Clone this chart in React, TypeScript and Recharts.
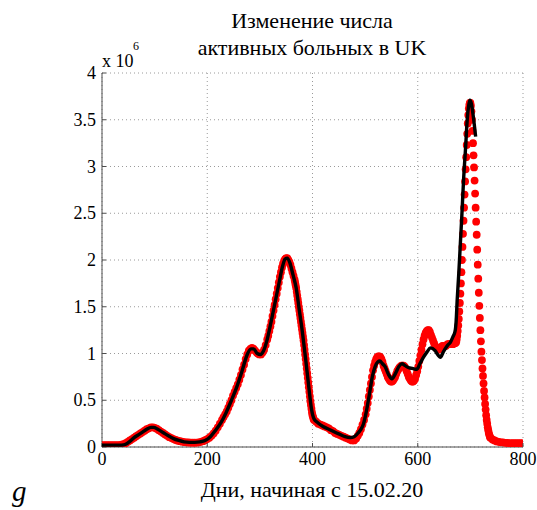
import React from 'react';
import {
  ComposedChart,
  LineChart,
  Line,
  XAxis,
  YAxis,
  CartesianGrid,
} from 'recharts';

// model (red dots): [day, active cases in millions]
const modelPoints: [number, number][] = [
  [0, 0.02], [4, 0.02], [8, 0.02], [12, 0.02], [16, 0.02], [20, 0.02], [24, 0.02], [28, 0.02], [32, 0.02],
  [37, 0.025], [41, 0.03], [45, 0.04], [49, 0.055], [53, 0.07], [57, 0.085], [61, 0.1], [65, 0.115],
  [69, 0.13], [73, 0.145], [77, 0.16], [81, 0.175], [85, 0.19], [89, 0.2], [93, 0.21], [97, 0.21],
  [100, 0.205], [104, 0.195], [108, 0.18], [112, 0.165], [116, 0.15], [120, 0.135], [124, 0.12],
  [128, 0.105], [132, 0.095], [136, 0.085], [140, 0.075], [144, 0.068], [148, 0.062], [152, 0.057],
  [156, 0.053], [160, 0.05], [164, 0.048], [168, 0.047], [172, 0.046], [176, 0.046], [180, 0.047],
  [184, 0.05], [188, 0.055], [192, 0.062], [196, 0.072], [200, 0.085], [204, 0.1], [208, 0.12],
  [212, 0.145], [216, 0.175], [220, 0.21], [224, 0.25], [228, 0.29],
  [231, 0.32], [234, 0.35], [237, 0.38], [240, 0.42], [243, 0.46], [246, 0.5], [249, 0.55], [252, 0.59],
  [255, 0.63], [258, 0.67], [261, 0.72], [264, 0.77], [267, 0.83], [270, 0.88], [273, 0.94], [276, 0.99],
  [279, 1.03], [282, 1.05], [285, 1.06], [288, 1.05], [291, 1.03], [294, 1.01], [296, 1.0], [299, 0.99],
  [302, 0.99], [305, 1.01], [308, 1.04], [311, 1.09], [314, 1.15],
  [316, 1.19], [318, 1.24], [320, 1.29], [322, 1.34], [324, 1.4], [326, 1.46], [328, 1.52], [330, 1.58],
  [332, 1.64], [334, 1.7], [336, 1.76], [338, 1.82], [340, 1.87], [342, 1.92], [344, 1.96], [346, 1.99],
  [348, 2.01], [350, 2.02], [352, 2.02], [354, 2.0], [356, 1.98], [358, 1.95], [360, 1.91], [362, 1.87],
  [364, 1.83], [366, 1.79],
  [367, 1.76], [368, 1.73], [369, 1.7], [370, 1.66], [371, 1.62], [372, 1.58], [373, 1.54], [374, 1.5],
  [375, 1.46], [376, 1.42], [377, 1.38], [378, 1.34], [379, 1.3], [380, 1.26], [381, 1.22], [382, 1.18],
  [383, 1.14], [384, 1.09], [385, 1.04], [386, 0.99], [387, 0.94], [388, 0.89], [389, 0.84], [390, 0.79],
  [391, 0.74], [392, 0.69], [393, 0.64], [394, 0.59], [395, 0.54], [396, 0.49], [397, 0.45], [398, 0.41],
  [399, 0.37], [400, 0.34], [401, 0.32], [402, 0.3], [403, 0.29],
  [407, 0.27], [411, 0.25], [415, 0.24], [419, 0.23], [423, 0.22], [427, 0.21], [431, 0.2], [435, 0.18],
  [439, 0.17], [443, 0.15], [447, 0.14], [451, 0.13], [455, 0.12], [459, 0.11], [463, 0.1], [467, 0.09],
  [471, 0.08], [475, 0.07], [479, 0.07], [483, 0.09],
  [486, 0.12], [489, 0.15], [492, 0.19], [495, 0.24], [498, 0.29], [501, 0.35], [503, 0.41],
  [505, 0.47], [507, 0.54], [509, 0.61], [511, 0.68], [513, 0.75], [515, 0.82], [517, 0.87], [519, 0.91],
  [521, 0.94], [523, 0.96], [525, 0.97], [527, 0.97], [529, 0.96], [531, 0.94], [533, 0.91], [535, 0.87],
  [537, 0.84], [539, 0.81], [541, 0.78], [543, 0.75], [545, 0.73], [547, 0.71], [549, 0.7], [551, 0.7],
  [553, 0.71], [555, 0.73], [557, 0.75], [559, 0.78], [561, 0.81], [563, 0.83], [565, 0.85], [567, 0.86],
  [569, 0.87], [571, 0.87], [573, 0.87], [575, 0.86], [577, 0.84], [579, 0.81], [581, 0.78], [583, 0.75],
  [585, 0.73], [587, 0.71], [589, 0.7], [591, 0.7], [593, 0.71], [595, 0.73], [597, 0.77], [599, 0.81],
  [601, 0.86], [603, 0.92], [605, 0.98], [607, 1.04], [609, 1.1], [611, 1.15], [613, 1.19], [615, 1.22],
  [617, 1.24], [619, 1.25], [621, 1.25], [623, 1.23], [625, 1.2], [627, 1.17], [629, 1.14], [631, 1.11],
  [633, 1.08], [635, 1.06], [637, 1.05], [639, 1.04], [641, 1.05], [643, 1.06], [645, 1.07], [647, 1.08],
  [649, 1.08], [651, 1.08], [653, 1.08], [655, 1.09], [657, 1.1], [659, 1.1], [661, 1.1], [663, 1.1],
  [665, 1.1], [667, 1.1], [669, 1.11], [671, 1.11], [673, 1.12],
  [674, 1.15], [675, 1.19], [676, 1.24], [677, 1.3], [678, 1.37], [679, 1.45], [680, 1.54], [681, 1.64],
  [682, 1.75], [683, 1.87], [684, 2.0], [685, 2.14], [686, 2.28], [687, 2.42], [688, 2.56], [689, 2.7],
  [690, 2.84], [691, 2.97], [692, 3.1], [693, 3.23], [694, 3.35], [695, 3.46], [696, 3.55], [697, 3.62],
  [698, 3.66], [699, 3.68], [700, 3.68], [701, 3.65], [702, 3.59], [703, 3.5], [704, 3.38], [705, 3.25],
  [706, 3.12], [707, 2.99], [708, 2.85], [709, 2.71], [710, 2.56], [711, 2.41], [712, 2.27], [713, 2.11],
  [714, 1.95], [715, 1.8], [716, 1.65], [717, 1.51], [718, 1.38], [719, 1.25], [720, 1.13], [721, 1.02],
  [722, 0.93], [723, 0.84], [724, 0.76], [725, 0.68], [726, 0.6], [727, 0.53], [728, 0.46], [729, 0.4],
  [730, 0.34], [731, 0.29], [732, 0.25], [733, 0.21], [734, 0.18], [735, 0.15], [736, 0.13], [737, 0.11],
  [738, 0.1],
  [742, 0.08], [746, 0.07], [750, 0.06], [754, 0.055], [758, 0.05], [762, 0.05], [766, 0.045], [770, 0.045],
  [774, 0.04], [778, 0.04], [782, 0.04], [786, 0.04], [790, 0.04], [794, 0.04], [798, 0.04],
];

// observed data (black line)
const observedPoints: [number, number][] = [
  [0, 0.02], [17, 0.02], [37, 0.02], [45, 0.03], [53, 0.06], [61, 0.1], [69, 0.13], [77, 0.16], [85, 0.19],
  [93, 0.21], [98, 0.21], [106, 0.19], [116, 0.155], [126, 0.12], [136, 0.09], [146, 0.07], [156, 0.055],
  [166, 0.05], [176, 0.05], [186, 0.055], [196, 0.07], [206, 0.11], [216, 0.18], [226, 0.26], [236, 0.37],
  [246, 0.5], [256, 0.64], [266, 0.81], [276, 0.99], [283, 1.05], [288, 1.05], [295, 1.0], [301, 0.99],
  [307, 1.03], [313, 1.13], [321, 1.33], [329, 1.55], [337, 1.77], [343, 1.93], [348, 2.01], [352, 2.02],
  [357, 1.97], [363, 1.84], [369, 1.7], [375, 1.46], [381, 1.22], [387, 0.94], [393, 0.64], [398, 0.41],
  [403, 0.3], [410, 0.26], [420, 0.22], [435, 0.18], [450, 0.14], [462, 0.11], [472, 0.1], [479, 0.11],
  [485, 0.14], [491, 0.18], [497, 0.25], [502, 0.37], [508, 0.56], [514, 0.76], [519, 0.86], [524, 0.91],
  [528, 0.92], [533, 0.89], [538, 0.86], [544, 0.78], [551, 0.73], [558, 0.79], [564, 0.86], [570, 0.89],
  [576, 0.87], [582, 0.85], [590, 0.84], [598, 0.83], [604, 0.89], [611, 0.96], [618, 1.02], [624, 1.06],
  [633, 1.03], [639, 0.98], [643, 0.96], [648, 1.01], [652, 1.05], [657, 1.09], [662, 1.12], [667, 1.18],
  [671, 1.24], [673, 1.35], [675, 1.58], [678, 1.86], [681, 2.18], [684, 2.5], [687, 2.85], [691, 3.21],
  [694, 3.5], [697, 3.66], [699, 3.71], [702, 3.67], [705, 3.56], [708, 3.42], [710, 3.32],
];

const xTicks = [0, 200, 400, 600, 800];
const yTicks = [0, 0.5, 1, 1.5, 2, 2.5, 3, 3.5, 4];

const titleLines = ['Изменение числа', 'активных больных в UK'];
const xLabel = 'Дни, начиная с 15.02.20';
const panelLetter = 'g';

const FONT = '"Liberation Serif", "Times New Roman", serif';
const AXIS = '#4d4d4d';
const W = 537;
const H = 510;
// plot box: 102..523 px across, 73..447 px down
const PLOT_MARGIN = { top: 73, right: 14, bottom: 63, left: 102 };

const modelData = modelPoints.map(([day, v]) => ({ day, v }));
const observedData = observedPoints.map(([day, v]) => ({ day, v }));

const XTick = ({ x, y, payload }: any) => (
  <g>
    <line x1={x} y1={y} x2={x} y2={y - 4} stroke={AXIS} />
    <text x={x} y={y + 18} textAnchor="middle" style={{ fontFamily: FONT, fontSize: 18 }} fill="#000">
      {payload.value}
    </text>
  </g>
);

const YTick = ({ x, y, payload }: any) => (
  <g>
    <line x1={x} y1={y} x2={x + 4} y2={y} stroke={AXIS} />
    <text x={x - 6} y={y + 6} textAnchor="end" style={{ fontFamily: FONT, fontSize: 18 }} fill="#000">
      {payload.value}
    </text>
  </g>
);

const Dot = (p: any) => <circle key={p.index} cx={p.cx} cy={p.cy} r={3.9} fill="#ff0000" />;

const App = () => (
  <div style={{ position: 'absolute', left: 0, top: 0, width: W, height: H, background: '#fff' }}>
    {/* base chart: grid, axes and the model dots */}
    <ComposedChart
      width={W}
      height={H}
      margin={{ ...PLOT_MARGIN, bottom: PLOT_MARGIN.bottom - 30, left: PLOT_MARGIN.left - 60 }}
    >
      <CartesianGrid stroke="#9a9a9a" strokeDasharray="1 3" />
      <XAxis
        type="number"
        dataKey="day"
        domain={[0, 800]}
        ticks={xTicks}
        height={30}
        tickSize={0}
        tickMargin={0}
        stroke={AXIS}
        tick={<XTick />}
        allowDataOverflow
      />
      <YAxis
        type="number"
        dataKey="v"
        domain={[0, 4]}
        ticks={yTicks}
        width={60}
        tickSize={0}
        tickMargin={0}
        stroke={AXIS}
        tick={<YTick />}
        allowDataOverflow
      />
      <Line
        data={modelData}
        dataKey="v"
        stroke="none"
        dot={Dot}
        activeDot={false}
        isAnimationActive={false}
      />
    </ComposedChart>
    {/* observed data drawn on top of the dots, same plot box */}
    <div style={{ position: 'absolute', left: 0, top: 0, pointerEvents: 'none' }}>
      <LineChart width={W} height={H} margin={PLOT_MARGIN}>
        <XAxis type="number" dataKey="day" domain={[0, 800]} hide allowDataOverflow />
        <YAxis type="number" dataKey="v" domain={[0, 4]} hide allowDataOverflow />
        <Line
          data={observedData}
          dataKey="v"
          type="monotone"
          stroke="#000"
          strokeWidth={3.4}
          dot={false}
          activeDot={false}
          isAnimationActive={false}
        />
      </LineChart>
    </div>
    <svg
      width={W}
      height={H}
      style={{ position: 'absolute', left: 0, top: 0, pointerEvents: 'none' }}
    >
      <text x={312} y={28} textAnchor="middle" fontFamily={FONT} fontSize={22}>
        {titleLines[0]}
      </text>
      <text x={312} y={55} textAnchor="middle" fontFamily={FONT} fontSize={22}>
        {titleLines[1]}
      </text>
      <text x={102} y={67} fontFamily={FONT} fontSize={18}>
        x 10
      </text>
      <text x={133} y={50} fontFamily={FONT} fontSize={12}>
        6
      </text>
      <text x={312} y={497} textAnchor="middle" fontFamily={FONT} fontSize={22}>
        {xLabel}
      </text>
      <text x={12} y={501} fontFamily={FONT} fontSize={29} fontStyle="italic">
        {panelLetter}
      </text>
    </svg>
  </div>
);

export default App;
